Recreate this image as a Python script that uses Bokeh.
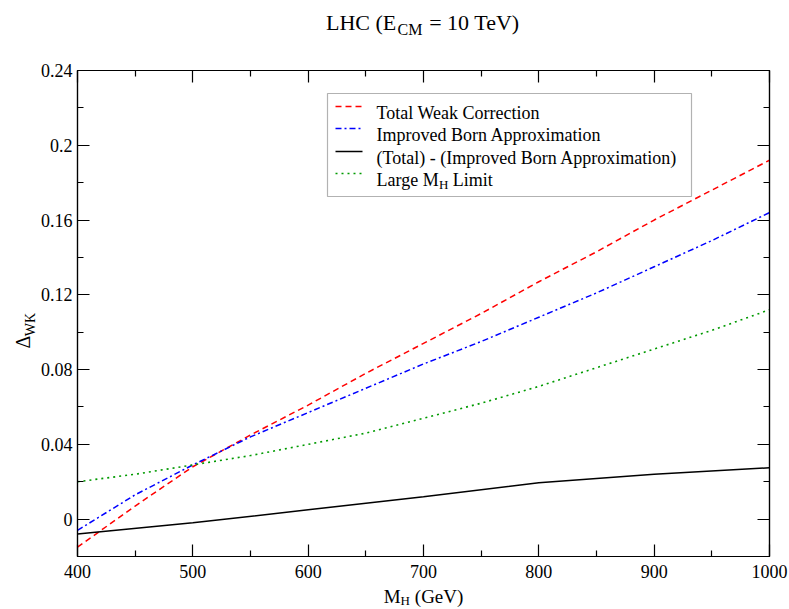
from bokeh.plotting import figure
from bokeh.models import Label, BoxAnnotation, LinearAxis, FixedTicker, Range1d
from bokeh.embed import file_html
from bokeh.resources import INLINE

# ---------------- data ----------------
mh = [400, 450, 500, 550, 600, 650, 700, 750, 800, 850, 900, 950, 1000]
total_weak = [-0.015, 0.007, 0.028, 0.045, 0.061, 0.078, 0.094, 0.110, 0.127, 0.143, 0.160, 0.176, 0.192]
improved_born = [-0.006, 0.013, 0.029, 0.044, 0.057, 0.070, 0.083, 0.095, 0.108, 0.121, 0.135, 0.149, 0.164]
large_mh_limit = [0.020, 0.024, 0.029, 0.034, 0.040, 0.046, 0.054, 0.062, 0.071, 0.081, 0.091, 0.101, 0.112]
mh_diff = [400, 500, 600, 700, 800, 900, 1000]
total_minus_born = [-0.008, -0.002, 0.005, 0.012, 0.0195, 0.024, 0.0275]

x_ticks = [400, 500, 600, 700, 800, 900, 1000]
x_minor = [450, 550, 650, 750, 850, 950]
y_ticks = [0, 0.04, 0.08, 0.12, 0.16, 0.2, 0.24]
y_tick_labels = ["0", "0.04", "0.08", "0.12", "0.16", "0.2", "0.24"]
y_minor = [-0.02, 0.02, 0.06, 0.1, 0.14, 0.18, 0.22]

legend_labels = ["Total Weak Correction", "Improved Born Approximation",
                 "(Total) - (Improved Born Approximation)", "Large M"]

FONT = "Liberation Serif"
NB = "\u00a0"

# frame geometry (picture pixels)
FL, FR, FT, FB = 77, 769, 70, 556
WIDTH, HEIGHT = 789, 609
X0, X1 = 400, 1000
Y0, Y1 = -0.02, 0.24


def dx(px):
    return X0 + (px - FL) * (X1 - X0) / (FR - FL)


def dy(py):
    return Y0 + (FB - py) * (Y1 - Y0) / (FB - FT)


p = figure(width=WIDTH, height=HEIGHT, x_range=Range1d(X0, X1), y_range=Range1d(Y0, Y1),
           output_backend="svg", toolbar_location=None, title=None,
           min_border_left=FL, min_border_right=WIDTH - FR,
           min_border_top=FT, min_border_bottom=HEIGHT - FB)
p.xgrid.visible = False
p.ygrid.visible = False
p.outline_line_color = "black"
p.outline_line_width = 1.2
p.background_fill_color = "white"
p.border_fill_color = "white"


def style_axis(ax, labels=True):
    ax.axis_line_color = "black"
    ax.axis_line_width = 1.2
    ax.major_tick_in = 12
    ax.major_tick_out = 0
    ax.minor_tick_in = 6
    ax.minor_tick_out = 0
    ax.major_tick_line_color = "black"
    ax.minor_tick_line_color = "black"
    ax.major_tick_line_width = 1.2
    ax.minor_tick_line_width = 1.2
    ax.major_label_text_font = FONT
    if labels:
        ax.major_label_text_color = "black"
        ax.major_label_text_font_size = "18px"
    else:
        ax.major_label_text_color = None
        ax.major_label_text_font_size = "1px"
        ax.major_label_standoff = 0


xt = FixedTicker(ticks=x_ticks, minor_ticks=x_minor)
yt = FixedTicker(ticks=y_ticks, minor_ticks=y_minor)
p.xaxis[0].ticker = xt
p.yaxis[0].ticker = yt
p.yaxis[0].major_label_overrides = {t: s for t, s in zip(y_ticks, y_tick_labels)}
style_axis(p.xaxis[0])
style_axis(p.yaxis[0])
p.xaxis[0].major_label_standoff = 8
p.yaxis[0].major_label_standoff = 5

top_ax = LinearAxis(ticker=xt)
style_axis(top_ax, labels=False)
p.add_layout(top_ax, "above")
right_ax = LinearAxis(ticker=yt)
style_axis(right_ax, labels=False)
p.add_layout(right_ax, "right")

# ---------------- series ----------------
styles = [
    dict(line_color="#ff0000", line_dash="6 4", line_width=1.5),
    dict(line_color="#0000ff", line_dash="6 3 2 3", line_width=1.5),
    dict(line_color="#000000", line_width=1.5),
    dict(line_color="#009a00", line_dash="2 4", line_width=1.6),
]
p.line(mh, total_weak, **styles[0])
p.line(mh, improved_born, **styles[1])
p.line(mh_diff, total_minus_born, **styles[2])
p.line(mh, large_mh_limit, **styles[3])

# ---------------- text helpers ----------------
W = {' ': 250, NB: 250, '(': 333, ')': 333, '-': 333, '=': 564, '.': 250,
     'A': 722, 'B': 667, 'C': 667, 'E': 611, 'G': 722, 'H': 722, 'I': 333, 'K': 722,
     'L': 611, 'M': 889, 'T': 611, 'V': 722, 'W': 944,
     'a': 444, 'c': 444, 'd': 500, 'e': 444, 'g': 500, 'i': 278, 'k': 500, 'l': 278,
     'm': 778, 'n': 500, 'o': 500, 'p': 500, 'r': 333, 't': 278, 'v': 500, 'x': 500,
     '\u0394': 612}


def tw(s, size):
    return sum(W.get(c, 500) for c in s) * size / 1000.0


def label(text, x_px, y_px, size, angle=0.0, place=None):
    lab = Label(x=dx(x_px), y=dy(y_px), text=text, angle=angle,
                text_font=FONT, text_font_size=f"{size}px",
                text_baseline="alphabetic", text_align="left", text_color="black")
    if place is None:
        p.add_layout(lab)
    else:
        p.add_layout(lab, place)   # side panels are not clipped to the frame


# ---- title: LHC (E_CM = 10 TeV) ----
T, TS = 22, 16
t_head, t_sub, t_tail = "LHC (E", "CM", "= 10 TeV)"
n_gap = 5
t_main = t_head + NB * n_gap + " " + t_tail
t_x = (FL + FR) / 2 - tw(t_main, T) / 2
t_base = 22
label(t_main, t_x, t_base, T, place="above")
sub_x = t_x + tw(t_head, T) + (tw(NB * n_gap, T) - tw(t_sub, TS)) / 2
label(t_sub, sub_x, t_base + 7, TS, place="above")

# ---- x axis label: M_H (GeV) ----
XF, XS = 19, 13
x_main = "M" + NB * 2 + " (GeV)"
x_x = (FL + FR) / 2 - tw(x_main, XF) / 2
x_base = 596
label(x_main, x_x, x_base, XF, place="below")
label("H", x_x + tw("M", XF), x_base + 4, XS, place="above")

# ---- y axis label: Delta_WK (rotated) ----
YF, YS = 20, 14
y_base_x = 22
y_start = 348
label("\u0394", y_base_x, y_start, YF, angle=1.5707963267948966, place="left")
label("WK", y_base_x + 8, y_start - tw("\u0394", YF), YS, angle=1.5707963267948966, place="right")

# ---------------- legend ----------------
p.add_layout(BoxAnnotation(left=dx(327), right=dx(691), top=dy(93), bottom=dy(196),
                           fill_alpha=0, line_color="black", line_width=1.2))
rows = [106, 128, 151, 173]
for i, yrow in enumerate(rows):
    p.line([dx(335), dx(362)], [dy(yrow), dy(yrow)], **styles[i])
LF = 18
for i in range(3):
    label(legend_labels[i], 376, rows[i] + 6, LF)
label(legend_labels[3], 376, rows[3] + 6, LF)
lx = 376 + tw(legend_labels[3], LF)
label("H", lx, rows[3] + 11, 13)
label("Limit", lx + tw("H", 13) + tw(" ", LF), rows[3] + 6, LF)

open("out.html", "w").write(file_html(p, INLINE))
